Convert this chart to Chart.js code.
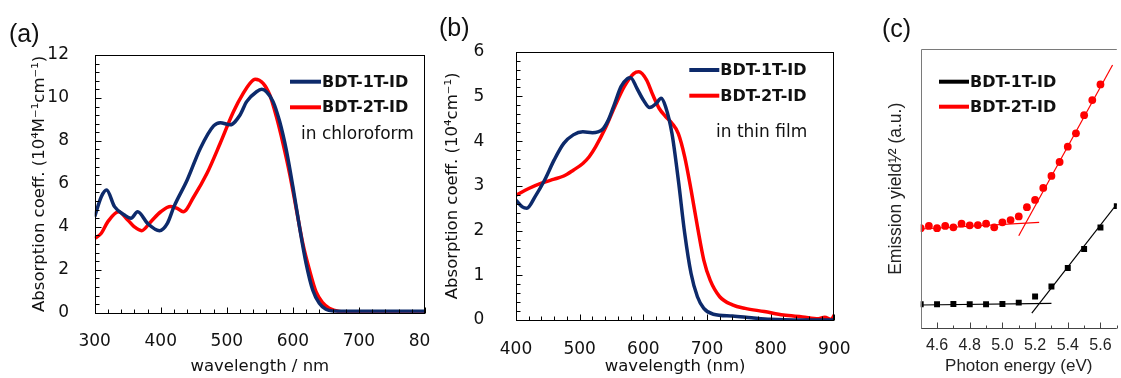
<!DOCTYPE html>
<html>
<head>
<meta charset="utf-8">
<script src="https://cdn.jsdelivr.net/npm/chart.js@4/dist/chart.umd.min.js"></script>
<style>
  body { margin: 0; background: #fff; }
  #wrap { position: relative; width: 1121px; height: 378px; overflow: hidden; background: #fff; }
  canvas { position: absolute; top: 0; }
  .tag { position: absolute; font: 25px "Liberation Sans", Arial, sans-serif; line-height: 25px; color: #111; }
</style>
</head>
<body>
<div id="wrap">
  <canvas id="ca" width="430" height="378" style="left:0"></canvas>
  <canvas id="cb" width="430" height="378" style="left:430px"></canvas>
  <canvas id="cc" width="261" height="378" style="left:860px"></canvas>
  <div class="tag" style="left:9px;top:21px">(a)</div>
  <div class="tag" style="left:439px;top:15px">(b)</div>
  <div class="tag" style="left:882px;top:16px">(c)</div>
</div>
<script>
// (a) absorption in chloroform, 10^4 M-1 cm-1
const wlSol1T  = [300, 310, 318, 330, 345, 355, 365, 380, 398, 410, 420, 440, 460, 480, 490, 505, 520, 530, 545, 553, 560, 570, 580, 590, 600, 610, 620, 630, 640, 650, 660, 680, 700, 750, 800];
const absSol1T = [4.47, 5.4, 5.71, 4.94, 4.55, 4.4, 4.7, 4.16, 3.82, 4.16, 4.94, 6.18, 7.66, 8.7, 8.85, 8.75, 9.21, 9.83, 10.29, 10.4, 10.29, 9.83, 8.9, 7.58, 5.87, 4.0, 2.3, 1.06, 0.44, 0.16, 0.08, 0.07, 0.07, 0.07, 0.07];
const wlSol2T  = [300, 310, 320, 336, 350, 360, 371, 385, 400, 415, 425, 434, 450, 470, 490, 510, 525, 535, 543, 555, 565, 575, 585, 595, 605, 615, 625, 635, 645, 655, 670, 690, 720, 800];
const absSol2T = [3.46, 3.7, 4.24, 4.7, 4.32, 4.0, 3.82, 4.24, 4.7, 4.94, 4.86, 4.7, 5.4, 6.49, 7.89, 9.36, 10.22, 10.68, 10.87, 10.68, 10.14, 9.13, 7.89, 6.49, 4.86, 3.23, 2.0, 0.98, 0.47, 0.21, 0.06, 0.03, 0.02, 0.02];

// (b) absorption in thin film, 10^4 cm-1
const wlFilm1T  = [400, 410, 417, 430, 445, 460, 475, 490, 505, 520, 535, 545, 555, 565, 575, 580, 590, 600, 610, 620, 628, 635, 645, 655, 665, 675, 685, 695, 710, 740, 770, 800, 850, 900];
const absFilm1T = [2.68, 2.53, 2.5, 2.76, 3.13, 3.58, 3.95, 4.14, 4.21, 4.19, 4.25, 4.47, 4.84, 5.22, 5.4, 5.42, 5.18, 4.92, 4.75, 4.84, 4.96, 4.77, 4.17, 3.13, 1.94, 1.04, 0.52, 0.26, 0.13, 0.09, 0.05, 0.015, 0, 0];
const wlFilm2T  = [400, 420, 440, 460, 475, 490, 505, 515, 525, 540, 555, 570, 585, 593, 605, 615, 625, 635, 645, 655, 665, 675, 685, 695, 705, 720, 740, 760, 790, 820, 850, 875, 885, 895, 900];
const absFilm2T = [2.79, 2.94, 3.06, 3.15, 3.22, 3.35, 3.5, 3.65, 3.87, 4.28, 4.77, 5.22, 5.51, 5.55, 5.37, 5.03, 4.73, 4.55, 4.4, 4.17, 3.65, 2.91, 2.09, 1.34, 0.89, 0.52, 0.34, 0.26, 0.19, 0.11, 0.07, 0.03, 0.06, 0.015, 0.11];

// (c) photoelectron yield, arbitrary units
const eV1T  = [4.5, 4.6, 4.7, 4.8, 4.9, 5.0, 5.1, 5.2, 5.3, 5.4, 5.5, 5.6, 5.7];
const pys1T = [8.6, 8.6, 8.7, 8.6, 8.6, 8.7, 9.2, 11.4, 15.0, 21.6, 28.4, 36.1, 43.8];
const eV2T  = [4.5, 4.55, 4.6, 4.65, 4.7, 4.75, 4.8, 4.85, 4.9, 4.95, 5.0, 5.05, 5.1, 5.15, 5.2, 5.25, 5.3, 5.35, 5.4, 5.45, 5.5, 5.55, 5.6];
const pys2T = [35.9, 36.7, 35.9, 36.7, 36.2, 37.5, 36.9, 37.0, 37.5, 36.2, 38.0, 38.8, 40.1, 43.4, 46.0, 50.3, 54.6, 59.6, 65.1, 69.9, 76.4, 81.8, 87.4];
const base1T_x = [4.5, 5.3],   base1T_y = [8.35, 8.96];
const rise1T_x = [5.18, 5.7],  rise1T_y = [5.4, 44.5];
const base2T_x = [4.5, 5.225], base2T_y = [35.6, 38.0];
const rise2T_x = [5.1, 5.674], rise2T_y = [33.2, 94.4];

// tick labels
const ticksAx = [300, 400, 500, 600, 700, 800];
const ticksAy = [0, 2, 4, 6, 8, 10, 12];
const ticksBx = [400, 500, 600, 700, 800, 900];
const ticksBy = [0, 1, 2, 3, 4, 5, 6];
const ticksCx = [4.6, 4.8, 5.0, 5.2, 5.4, 5.6];

const NAVY = '#0d2a6b';
const RED = '#ff0000';

Chart.defaults.font.family = '"DejaVu Sans", Verdana, sans-serif';
Chart.defaults.color = '#111';

const pts = (xs, ys) => xs.map((x, i) => ({ x: x, y: ys[i] }));

// frame, inward tick marks, legend and note inside the plot
const panelDeco = {
  id: 'panelDeco',
  afterDatasetsDraw(chart, args, o) {
    const { ctx, chartArea: a } = chart;
    const xs = chart.scales.x, ys = chart.scales.y;
    const L = Math.round(a.left) + 0.5, R = Math.round(a.right) - 0.5;
    const T = Math.round(a.top) + 0.5, B = Math.round(a.bottom) + 0.5;
    ctx.save();
    ctx.lineWidth = 1;

    // ticks
    ctx.strokeStyle = o.tickColor;
    ctx.beginPath();
    if (o.xStep) {
      const n = Math.round((xs.max - xs.min) / o.xStep);
      for (let i = 0; i <= n; i++) {
        const v = xs.min + i * o.xStep;
        const px = Math.round(xs.getPixelForValue(v)) + 0.5;
        const major = o.xMajor.some(m => Math.abs(m - v) < 1e-6);
        ctx.moveTo(px, B);
        ctx.lineTo(px, B - (major ? o.len : o.minorLen));
      }
    }
    if (o.yStep) {
      const n = Math.round((ys.max - ys.min) / o.yStep);
      for (let i = 0; i <= n; i++) {
        const v = ys.min + i * o.yStep;
        const py = Math.round(ys.getPixelForValue(v)) + 0.5;
        const major = o.yMajor.some(m => Math.abs(m - v) < 1e-6);
        ctx.moveTo(L, py);
        ctx.lineTo(L + (major ? o.len : o.minorLen), py);
      }
    }
    ctx.stroke();

    // frame
    if (o.boxed) {
      ctx.strokeStyle = o.frameColor;
      ctx.strokeRect(L, T, R - L, B - T);
    } else {
      ctx.strokeStyle = o.frameColor;
      ctx.beginPath();
      ctx.moveTo(L, B); ctx.lineTo(L, T); ctx.lineTo(a.right, T);
      ctx.stroke();
      ctx.strokeStyle = o.tickColor;
      ctx.beginPath();
      ctx.moveTo(L, B); ctx.lineTo(a.right, B);
      ctx.stroke();
    }

    // legend
    ctx.textBaseline = 'middle';
    ctx.textAlign = 'left';
    ctx.font = 'bold 16px "DejaVu Sans", Verdana, sans-serif';
    o.legend.forEach(it => {
      ctx.strokeStyle = it.color;
      ctx.lineWidth = 4;
      ctx.beginPath();
      ctx.moveTo(o.lx1, it.y); ctx.lineTo(o.lx2, it.y);
      ctx.stroke();
      ctx.fillStyle = '#111';
      ctx.fillText(chart.data.datasets[it.ds].label, o.lx2 + 1, it.y + 1);
    });
    if (o.note) {
      ctx.font = '17px "DejaVu Sans", Verdana, sans-serif';
      ctx.fillText(o.note.text, o.note.x, o.note.y);
    }
    ctx.restore();
  }
};

function lineSet(label, xs, ys, color) {
  return {
    label: label, data: pts(xs, ys), showLine: true, borderColor: color,
    borderWidth: 3.5, pointRadius: 0, cubicInterpolationMode: 'monotone', fill: false
  };
}

function absorptionChart(id, o) {
  return new Chart(document.getElementById(id), {
    type: 'scatter',
    data: { datasets: [lineSet('BDT-1T-ID', o.x1, o.y1, NAVY), lineSet('BDT-2T-ID', o.x2, o.y2, RED)] },
    options: {
      responsive: false, animation: false, events: [],
      layout: { padding: { top: o.top, right: o.right, left: 0, bottom: 0 } },
      scales: {
        x: {
          type: 'linear', min: o.xMin, max: o.xMax,
          grid: { display: false }, border: { display: false },
          ticks: { padding: o.xPad, font: { size: 17 }, maxRotation: 0, autoSkip: false },
          afterBuildTicks: s => { s.ticks = o.xTicks.map(v => ({ value: v })); },
          afterFit: s => { s.height = o.xH; s.paddingLeft = 0; s.paddingRight = 0; },
          title: { display: true, text: o.xTitle, font: { size: 16.5 }, padding: { top: 0, bottom: o.xTitlePad } }
        },
        y: {
          min: o.yMin, max: o.yMax,
          grid: { display: false }, border: { display: false },
          ticks: { padding: o.yPad, font: { size: 17 } },
          afterBuildTicks: s => { s.ticks = o.yTicks.map(v => ({ value: v })); },
          afterFit: s => { s.width = o.yW; s.paddingTop = 0; s.paddingBottom = 0; },
          title: { display: true, text: o.yTitle, font: { size: 16.5 }, padding: { top: o.yTitlePad, bottom: 0 } }
        }
      },
      plugins: {
        legend: { display: false }, tooltip: { enabled: false },
        panelDeco: {
          boxed: true, frameColor: '#000', tickColor: '#000', len: 6, minorLen: 4,
          xStep: o.xStep, xMajor: o.xTicks, yStep: o.yStep, yMajor: o.yTicks,
          lx1: o.lx1, lx2: o.lx2,
          legend: [{ ds: 0, y: o.ly1, color: NAVY }, { ds: 1, y: o.ly2, color: RED }],
          note: o.note
        }
      }
    },
    plugins: [panelDeco]
  });
}

// (a)
absorptionChart('ca', {
  x1: wlSol1T, y1: absSol1T, x2: wlSol2T, y2: absSol2T,
  xMin: 300, xMax: 800, yMin: 0, yMax: 12, xTicks: ticksAx, yTicks: ticksAy,
  xStep: 20, yStep: 0.4,
  top: 55, right: 5, xH: 65.3, yW: 94.7,
  xPad: 10.5, yPad: 17.7, xTitlePad: 1.5, yTitlePad: 30,
  xTitle: 'wavelength / nm', yTitle: 'Absorption coeff. (10\u2074M\u207B\u00B9cm\u207B\u00B9)',
  lx1: 290, lx2: 321, ly1: 81.7, ly2: 107.3,
  note: { text: 'in chloroform', x: 301, y: 135 }
});

// (b)
absorptionChart('cb', {
  x1: wlFilm1T, y1: absFilm1T, x2: wlFilm2T, y2: absFilm2T,
  xMin: 400, xMax: 900, yMin: 0, yMax: 6, xTicks: ticksBx, yTicks: ticksBy,
  xStep: 20, yStep: 0.2,
  top: 51.7, right: 25.7, xH: 58, yW: 86,
  xPad: 11, yPad: 23.7, xTitlePad: 1.8, yTitlePad: 13.3,
  xTitle: 'wavelength (nm)', yTitle: 'Absorption coeff. (10\u2074cm\u207B\u00B9)',
  lx1: 259.3, lx2: 289.3, ly1: 70, ly2: 95.7,
  note: { text: 'in thin film', x: 286, y: 132.3 }
});

// (c)
const fitLine = (label, xs, ys, color) => ({
  label: label, data: pts(xs, ys), showLine: true, borderColor: color,
  borderWidth: 1.2, pointRadius: 0, fill: false
});
new Chart(document.getElementById('cc'), {
  type: 'scatter',
  data: {
    datasets: [
      { label: 'BDT-1T-ID', data: pts(eV1T, pys1T), pointStyle: 'rect', pointRadius: 4.2,
        backgroundColor: '#000', borderColor: '#000', borderWidth: 0 },
      { label: 'BDT-2T-ID', data: pts(eV2T, pys2T), pointStyle: 'circle', pointRadius: 3.9,
        backgroundColor: RED, borderColor: RED, borderWidth: 0 },
      fitLine('base 1T', base1T_x, base1T_y, '#000'),
      fitLine('rise 1T', rise1T_x, rise1T_y, '#000'),
      fitLine('base 2T', base2T_x, base2T_y, RED),
      fitLine('rise 2T', rise2T_x, rise2T_y, RED)
    ]
  },
  options: {
    responsive: false, animation: false, events: [],
    layout: { padding: { top: 49.3, right: 0, left: 0, bottom: 0 } },
    scales: {
      x: {
        type: 'linear', min: 4.5, max: 5.7,
        grid: { display: false }, border: { display: false },
        ticks: { padding: 0, font: { family: '"Liberation Sans", Arial, sans-serif', size: 16 },
                 color: '#222', maxRotation: 0, autoSkip: false, callback: v => v.toFixed(1) },
        afterBuildTicks: s => { s.ticks = ticksCx.map(v => ({ value: v })); },
        afterFit: s => { s.height = 49.7; s.paddingLeft = 0; s.paddingRight = 0; },
        title: { display: true, text: 'Photon energy (eV)', color: '#222',
                 font: { family: '"Liberation Sans", Arial, sans-serif', size: 17 }, padding: { top: 0, bottom: 1 } }
      },
      y: {
        min: 0, max: 100,
        grid: { display: false }, border: { display: false },
        ticks: { display: false },
        afterFit: s => { s.width = 60.7; s.paddingTop = 0; s.paddingBottom = 0; },
        title: { display: true, text: 'Emission yield\u00B9\u2044\u00B2 (a.u.)', color: '#222',
                 font: { family: '"Liberation Sans", Arial, sans-serif', size: 17.5 }, padding: { top: 25.5, bottom: 0 } }
      }
    },
    plugins: {
      legend: { display: false }, tooltip: { enabled: false },
      panelDeco: {
        boxed: false, frameColor: '#7a7a7a', tickColor: '#444', len: 6, minorLen: 3,
        xStep: 0.1, xMajor: ticksCx, yStep: 0, yMajor: [],
        lx1: 79, lx2: 109,
        legend: [{ ds: 0, y: 81.7, color: '#000' }, { ds: 1, y: 106.7, color: RED }],
        note: null
      }
    }
  },
  plugins: [panelDeco]
});
</script>
</body>
</html>
